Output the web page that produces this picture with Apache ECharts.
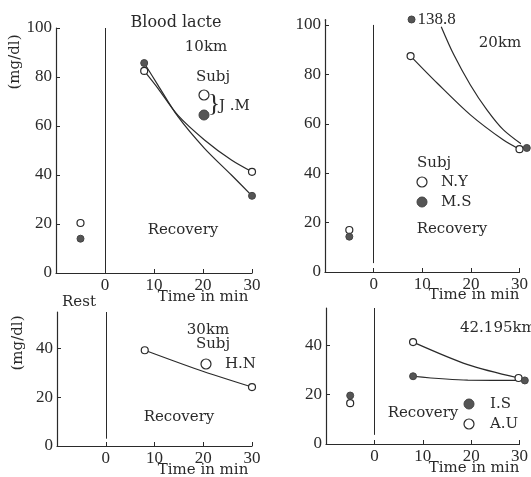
<!DOCTYPE html>
<html>
<head>
<meta charset="utf-8">
<script src="https://cdn.jsdelivr.net/npm/echarts@6/dist/echarts.min.js"></script>
<style>
  html, body { margin: 0; padding: 0; background: #fff; }
  #chart { width: 531px; height: 477px; }
</style>
</head>
<body>
<div id="chart"></div>
<script>
// Blood lactate after races of four distances: rest value (x = -5) and recovery values (min).
const xTicks = [0, 10, 20, 30];
const yTicksTall = [0, 20, 40, 60, 80, 100];
const yTicksShort = [0, 20, 40];

// 10 km, subject J.M (two runs)
const jmOpen = [[-5, 20.4], [8, 82.5], [30, 41.3]];
const jmFilled = [[-5, 14], [8, 85.7], [30, 31.5]];
const jmOpenCurve = [[8, 82.5], [10.8, 75.4], [14.9, 64.3], [20.3, 54.3], [25.8, 46.1], [30, 41.3]];
const jmFilledCurve = [[8, 85.7], [10.8, 76.7], [14.9, 63.8], [20.3, 50.9], [25.8, 40], [30, 31.5]];

// 20 km, subjects N.Y and M.S
const nyValues = [[-5, 17], [7.6, 87.4], [30, 49.7]];
const msValues = [[-5, 14.3], [7.8, 138.8], [31.5, 50.2]];
const nyCurve = [[7.6, 87.4], [13.1, 76.4], [19.9, 63.6], [26.7, 53.4], [30, 49.7]];
const msCurve = [[13.9, 99.3], [16.5, 87.9], [19.9, 75.7], [23.3, 65.6], [26.7, 57.5], [31.5, 50.2]];

// 30 km, subject H.N
const hnValues = [[8, 39.3], [30, 24.2]];
const hnCurve = [[8, 39.3], [19, 31.3], [30, 24.2]];

// 42.195 km, subjects I.S and A.U
const isValues = [[-5, 19.6], [8, 27.4], [31.1, 25.7]];
const auValues = [[-5, 16.5], [8, 41.2], [29.8, 26.7]];
const isCurve = [[8, 27.4], [19.3, 25.8], [31.1, 25.7]];
const auCurve = [[8, 41.2], [19.3, 32.1], [29.8, 26.7]];

const INK = '#2a2a2a';
const DOT = '#555';
const NUM_FONT = 'Liberation Serif';
const TXT_FONT = 'DejaVu Serif';

const grids = [
  { left: 56, top: 28, width: 196, height: 245 },
  { left: 325, top: 19, width: 196, height: 253 },
  { left: 57, top: 312, width: 195, height: 134 },
  { left: 326, top: 308, width: 197, height: 136 }
];

function xAxisFor(i) {
  return {
    gridIndex: i, type: 'value', min: -10, max: 30,
    axisLine: { show: true, onZero: false, lineStyle: { color: INK, width: 1.2 } },
    axisTick: { show: true, inside: true, length: 4, customValues: xTicks, lineStyle: { color: INK } },
    axisLabel: { customValues: xTicks, color: INK, fontFamily: NUM_FONT, fontSize: 17, margin: 4 },
    splitLine: { show: false }
  };
}

function yAxisFor(i, max, ticks, extra) {
  return Object.assign({
    gridIndex: i, type: 'value', min: 0, max: max,
    axisLine: { show: true, onZero: false, lineStyle: { color: INK, width: 1.2 } },
    axisTick: { show: true, inside: true, length: 4, customValues: ticks, lineStyle: { color: INK } },
    axisLabel: { customValues: ticks, color: INK, fontFamily: NUM_FONT, fontSize: 17, margin: 4 },
    splitLine: { show: false }
  }, extra || {});
}

function zeroLine(yFrom, yTo) {
  return {
    symbol: 'none', silent: true, animation: false,
    lineStyle: { color: INK, width: 1, type: 'solid' },
    label: { show: false },
    data: [[{ coord: [0, yFrom] }, { coord: [0, yTo] }]]
  };
}

function curve(i, data, extra) {
  return Object.assign({
    type: 'line', xAxisIndex: i, yAxisIndex: i, data: data,
    smooth: 0.3, symbol: 'none', clip: false,
    lineStyle: { color: INK, width: 1.2 }, z: 2
  }, extra || {});
}

function dots(i, data, filled, extra) {
  return Object.assign({
    type: 'scatter', xAxisIndex: i, yAxisIndex: i, data: data,
    symbol: 'circle', symbolSize: 7, clip: false, z: 3,
    itemStyle: filled
      ? { color: DOT, borderColor: '#444', borderWidth: 1, opacity: 1 }
      : { color: '#fff', borderColor: INK, borderWidth: 1.2, opacity: 1 }
  }, extra || {});
}

function txt(text, x, y, opts) {
  opts = opts || {};
  return {
    type: 'text', x: x, y: y, rotation: opts.rotation || 0, silent: true,
    style: {
      text: text, fill: INK,
      font: (opts.size || 15) + 'px "' + (opts.family || TXT_FONT) + '"',
      textAlign: opts.align || 'center', textVerticalAlign: 'middle'
    }
  };
}

function legendDot(x, y, filled) {
  return {
    type: 'circle', silent: true,
    shape: { cx: x, cy: y, r: 5 },
    style: filled ? { fill: DOT, stroke: '#444', lineWidth: 1 } : { fill: '#fff', stroke: INK, lineWidth: 1.2 }
  };
}

const msData = msValues.map(p => p[1] > 100 ? {
  value: p,
  label: {
    show: true, position: 'right', distance: 2,
    formatter: (params) => String(params.value[1]),
    color: INK, fontFamily: NUM_FONT, fontSize: 17
  }
} : p);

const option = {
  backgroundColor: '#fff',
  animation: false,
  grid: grids,
  xAxis: [xAxisFor(0), xAxisFor(1), xAxisFor(2), xAxisFor(3)],
  yAxis: [
    yAxisFor(0, 100, yTicksTall),
    yAxisFor(1, 139, yTicksTall, {
      breaks: [{ start: 102, end: 138.6, gap: 0 }],
      breakArea: { show: false }
    }),
    yAxisFor(2, 55, yTicksShort),
    yAxisFor(3, 55, yTicksShort)
  ],
  series: [
    // 10 km
    curve(0, jmOpenCurve, { markLine: zeroLine(0, 100) }),
    curve(0, jmFilledCurve),
    dots(0, jmOpen, false),
    dots(0, jmFilled, true),
    // 20 km
    curve(1, nyCurve, { markLine: zeroLine(3.6, 100) }),
    curve(1, msCurve),
    dots(1, nyValues, false),
    dots(1, msData, true),
    // 30 km
    curve(2, hnCurve, { markLine: zeroLine(3, 55) }),
    dots(2, hnValues, false),
    // 42.195 km
    curve(3, auCurve, { markLine: zeroLine(3.7, 55) }),
    curve(3, isCurve),
    dots(3, auValues, false),
    dots(3, isValues, true)
  ],
  graphic: [
    // axis names
    txt('(mg/dl)', 15, 62, { rotation: Math.PI / 2, size: 15 }),
    txt('(mg/dl)', 18, 343, { rotation: Math.PI / 2, size: 15 }),
    txt('Time in min', 203, 297),
    txt('Time in min', 474, 295),
    txt('Time in min', 203, 470),
    txt('Time in min', 474, 468),
    txt('Rest', 79, 302),
    // 10 km panel
    txt('Blood lacte', 176, 23, { size: 16 }),
    txt('10km', 206, 47),
    txt('Subj', 213, 77),
    legendDot(204, 95, false),
    legendDot(204, 115, true),
    txt('}', 214, 104, { size: 26, family: NUM_FONT }),
    txt('J .M', 219, 106, { align: 'left' }),
    txt('Recovery', 183, 230),
    // 20 km panel
    txt('20km', 500, 43),
    txt('Subj', 417, 163, { align: 'left' }),
    legendDot(422, 182, false),
    txt('N.Y', 441, 182, { align: 'left' }),
    legendDot(422, 202, true),
    txt('M.S', 441, 202, { align: 'left' }),
    txt('Recovery', 452, 229),
    // 30 km panel
    txt('30km', 208, 330),
    txt('Subj', 213, 344),
    legendDot(206, 364, false),
    txt('H.N', 225, 364, { align: 'left' }),
    txt('Recovery', 179, 417),
    // 42.195 km panel
    txt('42.195km', 460, 328, { align: 'left' }),
    txt('Recovery', 423, 413),
    legendDot(469, 404, true),
    txt('I.S', 490, 404, { align: 'left' }),
    legendDot(469, 424, false),
    txt('A.U', 490, 424, { align: 'left' })
  ]
};

const chart = echarts.init(document.getElementById('chart'), null, { renderer: 'canvas' });
chart.setOption(option);
</script>
</body>
</html>
